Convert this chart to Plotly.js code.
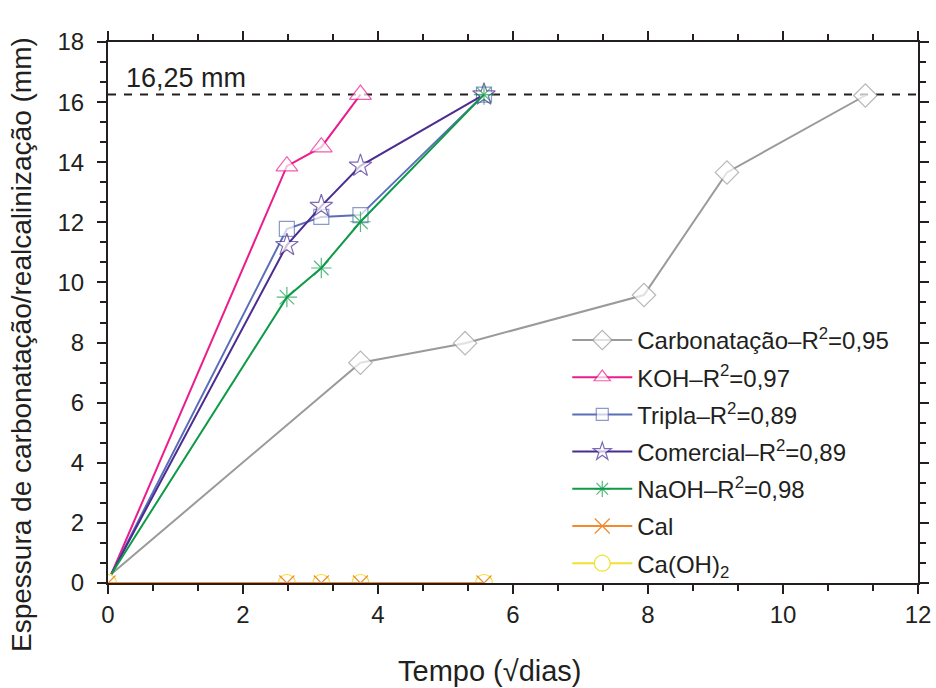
<!DOCTYPE html>
<html>
<head>
<meta charset="utf-8">
<script src="https://cdn.plot.ly/plotly-3.0.1.min.js"></script>
<style>html,body{margin:0;padding:0;background:#fff;}#chart{width:936px;height:688px;}</style>
</head>
<body>
<div id="chart"></div>
<script>
// Data (x in √dias, y in mm)
const xCarb = [0.05, 3.74, 5.29, 7.94, 9.17, 11.22];
const yCarb = [0.3, 7.33, 7.98, 9.58, 13.66, 16.22];
const xKOH = [0.05, 2.65, 3.16, 3.74];
const yKOH = [0.3, 13.87, 14.5, 16.25];
const xLong = [0.05, 2.65, 3.16, 3.74, 5.57];
const yTripla = [0.3, 11.78, 12.18, 12.24, 16.25];
const yComercial = [0.3, 11.24, 12.54, 13.88, 16.25];
const yNaOH = [0.3, 9.51, 10.48, 12.02, 16.25];
const xZero = [0, 2.65, 3.16, 3.74, 5.57];
const yCal = [0, 0, 0, 0, 0];
const yCaOH = [0, 0, 0, 0, 0];
const refLevel = 16.25;
const refLabel = "16,25 mm";
const xTitle = "Tempo (√dias)";
const yTitle = "Espessura de carbonatação/realcalinização (mm)";

const names = {
  carb: "Carbonatação–R<sup>2</sup>=0,95",
  koh: "KOH–R<sup>2</sup>=0,97",
  tripla: "Tripla–R<sup>2</sup>=0,89",
  com: "Comercial–R<sup>2</sup>=0,89",
  naoh: "NaOH–R<sup>2</sup>=0,98",
  cal: "Cal",
  caoh: "Ca(OH)<sub>2</sub>"
};

const FONT = 'Liberation Sans, Arial, sans-serif';
const INK = '#231f20';

function hideFirst(arr, size) { return arr.map((v, i) => i === 0 ? 0 : size); }

function trace(x, y, name, color, symbol, size, hide, rank, lineOnly) {
  return {
    x: x, y: y, name: name, type: 'scatter', mode: 'lines+markers',
    legendrank: rank, legendgroup: 'g' + rank,
    line: {color: color, width: 2},
    marker: {symbol: symbol, size: hide ? hideFirst(x, size) : size,
             color: lineOnly ? color : '#ffffff',
             line: {color: color, width: 1.2}},
    cliponaxis: true
  };
}

const traces = [
  trace(xCarb, yCarb, names.carb, '#9a9a9a', 'diamond', 18, true, 1000, false),
  trace(xKOH, yKOH, names.koh, '#ec1c8c', 'triangle-up', 19, true, 1001, false),
  trace(xLong, yTripla, names.tripla, '#5b6fb8', 'square', 15, true, 1002, false),
  trace(xLong, yComercial, names.com, '#4b2c91', 'star', 17, true, 1003, false),
  trace(xLong, yNaOH, names.naoh, '#0f9a48', 'asterisk-open', 17, true, 1004, true),
  trace(xZero, yCaOH, names.caoh, '#f0e030', 'circle', 17, false, 1006, false),
  trace(xZero, yCal, names.cal, '#f28a2e', 'x-thin-open', 15, false, 1005, true)
];

const axisCommon = {
  showline: true, linecolor: INK, linewidth: 2, mirror: 'allticks',
  ticks: 'outside', ticklen: 9, tickwidth: 2, tickcolor: INK,
  showgrid: false, zeroline: false,
  tickfont: {family: FONT, size: 24, color: INK},
  minor: {dtick: 2/3, ticks: 'outside', ticklen: 6, tickwidth: 2, tickcolor: INK, showgrid: false}
};

const layout = {
  width: 936, height: 688,
  margin: {l: 108, r: 18, t: 42, b: 105},
  paper_bgcolor: '#ffffff', plot_bgcolor: '#ffffff',
  showlegend: true,
  font: {family: FONT, color: INK},
  xaxis: Object.assign({}, axisCommon, {
    range: [0, 12], dtick: 2, tick0: 0
  }),
  yaxis: Object.assign({}, axisCommon, {
    range: [0, 18], dtick: 2, tick0: 0, ticklabelstandoff: 8
  }),
  legend: {
    x: 0.567, y: 0.49, xanchor: 'left', yanchor: 'top',
    bgcolor: 'rgba(0,0,0,0)', borderwidth: 0,
    font: {family: FONT, size: 24, color: INK},
    itemwidth: 60, tracegroupgap: 3
  },
  shapes: [{
    type: 'line', xref: 'paper', x0: 0, x1: 1, yref: 'y', y0: refLevel, y1: refLevel,
    line: {color: INK, width: 2, dash: '8px,8px'}, layer: 'below'
  }],
  annotations: [{
    text: refLabel, xref: 'paper', x: 0.02, xanchor: 'left', yref: 'y', y: refLevel, yanchor: 'bottom',
    yshift: 0, showarrow: false,
    font: {family: FONT, size: 27, color: INK}
  }, {
    text: yTitle, textangle: -90, xref: 'paper', x: 0, xanchor: 'center', xshift: -86,
    yref: 'paper', y: 0.44, yanchor: 'middle', showarrow: false,
    font: {family: FONT, size: 28, color: INK}
  }, {
    text: xTitle, xref: 'paper', x: 0.4716, xanchor: 'center',
    yref: 'paper', y: 0, yanchor: 'middle', yshift: -88, showarrow: false,
    font: {family: FONT, size: 29, color: INK}
  }]
};

Plotly.newPlot('chart', traces, layout, {staticPlot: true});
</script>
</body>
</html>
